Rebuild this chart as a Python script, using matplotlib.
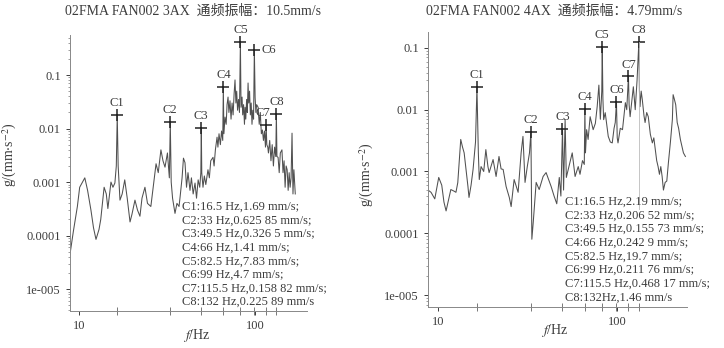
import numpy as np
import matplotlib
matplotlib.use('Agg')
import matplotlib.pyplot as plt
from matplotlib.ticker import FixedLocator, LogLocator, NullFormatter

plt.rcParams['font.family'] = ['Liberation Serif', 'Noto Sans CJK SC', 'DejaVu Sans']
plt.rcParams['mathtext.fontset'] = 'stix'

# -----------------------------------------------------------------------------
# Shared harmonic markers (shaft speed 16.5 Hz and multiples)
# -----------------------------------------------------------------------------
peak_names = ['C1', 'C2', 'C3', 'C4', 'C5', 'C6', 'C7', 'C8']
peak_hz = [16.5, 33, 49.5, 66, 82.5, 99, 115.5, 132]

# -----------------------------------------------------------------------------
# 3AX channel
# -----------------------------------------------------------------------------
title_3ax = '02FMA FAN002 3AX  通频振幅：10.5mm/s'
freq_3ax = [8.9, 9.3, 9.8, 10.1, 10.8, 11.2, 11.7, 12.1, 12.5, 13.0, 13.3, 13.9,
            14.3, 14.6, 15.0, 15.2, 15.6, 16.0, 16.3, 16.5, 16.7, 17.1, 17.6,
            18.2, 18.8, 19.5, 20.0, 20.8, 21.5, 22.2, 22.8, 23.7, 24.5, 25.6,
            26.5, 27.4, 28.2, 29.2, 30.0, 30.8, 31.8, 32.6, 33.0, 33.4, 34.0,
            35.1, 36.0, 37.0, 37.5, 38.5, 39.2, 40.0, 40.8, 41.6, 42.7, 43.5,
            44.5, 45.6, 46.5, 47.5, 48.5, 49.2, 49.5, 49.8, 50.6, 51.5, 52.5,
            54.0, 55.0, 56.0, 57.7, 58.5, 59.5, 60.8, 61.5, 62.4, 63.5, 64.5,
            65.5, 66.0, 66.5, 67.5, 68.5, 69.3, 70.2, 71.0, 72.0, 73.0, 74.0,
            75.0, 76.0, 76.9, 77.8, 78.6, 79.5, 80.5, 81.5, 82.5, 83.2, 84.3,
            85.0, 86.0, 87.0, 87.7, 88.5, 89.5, 90.3, 91.2, 92.0, 93.0, 94.0,
            95.0, 96.0, 97.0, 98.0, 99.0, 100, 101, 102, 104, 105.5, 107, 108.5,
            110, 111.5, 113, 114.5, 115.5, 116.5, 118, 119, 121, 123, 125, 127,
            129, 131, 132, 133, 135, 137, 139, 142, 144, 146, 148, 150, 152,
            154, 156, 158, 160, 162, 164, 166, 169]
amp_3ax = [4.5e-5, 1.2e-4, 3.5e-4, 8e-4, 1.2e-3, 7e-4, 3e-4, 1.4e-4, 8.5e-5,
           1.3e-4, 2e-4, 8e-4, 6e-4, 3.2e-4, 7e-4, 1.0e-3, 8e-4, 9.6e-4, 2e-3,
           0.0179, 2e-3, 4.6e-4, 6e-4, 1.1e-3, 5e-4, 1.8e-4, 2.5e-4, 4.6e-4,
           3e-4, 2.3e-4, 5e-4, 8e-4, 4e-4, 3.5e-4, 9e-4, 2.2e-3, 1.5e-3, 4e-3,
           2.5e-3, 1.9e-3, 3.5e-3, 1.2e-3, 0.0132, 1e-3, 5e-4, 2.6e-4, 4e-4,
           3.5e-4, 5.2e-4, 1.2e-3, 2.8e-3, 2.3e-3, 8e-4, 1.5e-3, 7e-4, 1.2e-3,
           6e-4, 9.6e-4, 5e-4, 1.1e-3, 8e-4, 1.5e-3, 0.0104, 1.5e-3, 8e-4,
           1.3e-3, 9e-4, 1.7e-3, 1.2e-3, 2.5e-3, 2.9e-3, 2e-3, 4e-3, 6.9e-3,
           4.5e-3, 8e-3, 5e-3, 9e-3, 6e-3, 0.0596, 8e-3, 0.0164, 0.012, 0.028,
           0.0388, 0.02, 0.033, 0.015, 0.030, 0.018, 0.045, 0.081, 0.03, 0.05,
           0.022, 0.035, 0.02, 0.414, 0.025, 0.0388, 0.018, 0.028, 0.012, 0.025,
           0.015, 0.035, 0.02, 0.071, 0.03, 0.05, 0.018, 0.03, 0.012, 0.022,
           0.015, 0.298, 0.038, 0.02, 0.028, 0.025, 0.012, 0.02, 0.008, 0.0094,
           0.006, 0.009, 0.0045, 0.0118, 0.005, 0.0045, 0.0035, 0.006, 0.0025,
           0.005, 0.002, 0.0045, 0.003, 0.0191, 0.003, 0.0029, 0.0015, 0.0035,
           0.004, 0.0015, 0.0025, 0.0008, 0.002, 0.0017, 0.0007, 0.0015, 0.0008,
           0.0012, 0.0082, 0.0006, 0.0017, 0.0006]
peak_amp_3ax = [0.0179, 0.0132, 0.0104, 0.0596, 0.414, 0.298, 0.0118, 0.0191]
notes_3ax = ['C1:16.5 Hz,1.69 mm/s;',
             'C2:33 Hz,0.625 85 mm/s;',
             'C3:49.5 Hz,0.326 5 mm/s;',
             'C4:66 Hz,1.41 mm/s;',
             'C5:82.5 Hz,7.83 mm/s;',
             'C6:99 Hz,4.7 mm/s;',
             'C7:115.5 Hz,0.158 82 mm/s;',
             'C8:132 Hz,0.225 89 mm/s']

# -----------------------------------------------------------------------------
# 4AX channel
# -----------------------------------------------------------------------------
title_4ax = '02FMA FAN002 4AX  通频振幅：4.79mm/s'
freq_4ax = [8.8, 9.15, 9.6, 10.1, 10.5, 10.8, 11.1, 11.8, 12.3, 12.6, 12.9,
            13.4, 13.7, 14.0, 14.7, 14.9, 15.3, 15.7, 16.2, 16.5, 16.8, 17.0,
            17.4, 18.0, 18.5, 19.0, 19.3, 20.3, 21.1, 21.9, 22.5, 23.1, 24.0,
            25.0, 25.6, 26.6, 28.0, 29.1, 29.8, 30.6, 31.5, 32.4, 33.0, 33.4,
            34.0, 35.3, 36.7, 38.6, 40.1, 42.8, 44.5, 46.0, 47.5, 48.5, 49.5,
            50.2, 51.2, 52.0, 53.3, 56.1, 58.2, 60.6, 62.0, 64.0, 65.5, 66.0,
            66.5, 67.5, 68.8, 70.6, 73.4, 75.5, 77.3, 79.0, 80.5, 82.0, 82.5,
            83.2, 84.0, 85.7, 89.1, 91.5, 93.8, 96.0, 97.5, 99.0, 100, 101, 104,
            107, 109, 111, 113, 115.5, 116.5, 118, 121, 123, 126, 129, 132, 133,
            134, 136, 138, 141, 143, 146, 149, 153, 157, 160, 163, 166, 169,
            172, 175, 178, 181, 185, 189, 193, 198, 203, 205, 208, 212, 216,
            220, 225, 230, 234, 240]
amp_4ax = [5.0e-4, 4.6e-4, 3.6e-4, 8.0e-4, 6e-4, 3.2e-4, 2.3e-4, 5.1e-4,
           4.8e-4, 4.6e-4, 6.6e-4, 3.3e-3, 2.5e-3, 2.0e-3, 5.7e-4, 3.8e-4, 6e-4,
           1.08e-3, 3e-3, 0.0231, 2e-3, 7.4e-4, 1.2e-3, 1.0e-3, 2.26e-3, 1.2e-3,
           9.6e-4, 1.56e-3, 8.3e-4, 1.75e-3, 1.1e-3, 1.08e-3, 5.7e-4, 3.8e-4,
           2.7e-4, 7.4e-4, 4.6e-4, 2.0e-3, 3.7e-3, 6.65e-4, 1.2e-3, 2e-3,
           4.37e-3, 8.0e-5, 1.5e-4, 6.65e-4, 5.1e-4, 8.3e-4, 9.6e-4, 5.7e-4,
           3.95e-4, 3e-4, 8e-4, 4e-4, 4.94e-3, 5e-4, 6.9e-3, 8e-4, 1.08e-3,
           2.0e-3, 8.3e-4, 1.2e-3, 9e-4, 1.5e-3, 1.3e-3, 0.0103, 2e-3, 4.75e-3,
           3.3e-3, 7.7e-3, 4.75e-3, 6e-3, 0.0112, 0.025, 0.007, 0.02, 0.104,
           0.015, 6.9e-3, 8.95e-3, 3.7e-3, 3e-3, 2.9e-3, 5e-3, 6.2e-3, 0.0134,
           3.5e-3, 2.9e-3, 5e-3, 4.75e-3, 8e-3, 0.013, 0.01, 0.0346, 0.012,
           7.7e-3, 0.015, 0.0235, 0.01, 0.03, 0.1234, 0.02, 0.0112, 0.02,
           0.0145, 8e-3, 6.2e-3, 9e-3, 7.7e-3, 4e-3, 2.9e-3, 3.5e-3, 2.26e-3,
           1.5e-3, 1.2e-3, 9e-4, 1.2e-3, 8.3e-4, 5e-4, 6.65e-4, 7e-4, 1.4e-3,
           3e-3, 6.9e-3, 0.0175, 0.015, 0.012, 6.2e-3, 5e-3, 3.3e-3, 2.5e-3,
           2.0e-3, 1.75e-3]
peak_amp_4ax = [0.0231, 0.00437, 0.00494, 0.0103, 0.104, 0.0134, 0.0346, 0.1234]
notes_4ax = ['C1:16.5 Hz,2.19 mm/s;',
             'C2:33 Hz,0.206 52 mm/s;',
             'C3:49.5 Hz,0.155 73 mm/s;',
             'C4:66 Hz,0.242 9 mm/s;',
             'C5:82.5 Hz,19.7 mm/s;',
             'C6:99 Hz,0.211 76 mm/s;',
             'C7:115.5 Hz,0.468 17 mm/s;',
             'C8:132Hz,1.46 mm/s']

y_ticks = [1e-5, 1e-4, 1e-3, 1e-2, 1e-1]
y_ticklabels = ['1e-005', '0.0001', '0.001', '0.01', '0.1']

INK = '#3c3c3c'
LINE = '#505050'


def draw_panel(ax, freq, amp, peak_amp, notes, xlim, ylim, note_xy, note_step,
               label_shift=None):
    label_shift = label_shift or {}
    ax.plot(freq, amp, color=LINE, lw=0.75)
    ax.plot(peak_hz, peak_amp, ls='none', marker='+', ms=8, mew=1.1, color='#222222')

    for name, f, a in zip(peak_names, peak_hz, peak_amp):
        dx, dy, ha = label_shift.get(name, (0, 8.5, 'center'))
        ax.annotate(name, (f, a), xytext=(dx, dy), textcoords='offset points',
                    ha=ha, va='center', fontsize=9, color=INK)

    for i, line in enumerate(notes):
        ax.text(note_xy[0], note_xy[1] - i * note_step, line, transform=ax.transAxes,
                ha='left', va='center', fontsize=9, color=INK)

    ax.set_xscale('log')
    ax.set_yscale('log')
    ax.set_xlim(*xlim)
    ax.set_ylim(*ylim)

    ax.yaxis.set_major_locator(FixedLocator(y_ticks))
    ax.set_yticklabels(y_ticklabels)
    ax.yaxis.set_minor_locator(LogLocator(base=10, subs=np.arange(2, 10)))
    ax.yaxis.set_minor_formatter(NullFormatter())

    ax.xaxis.set_major_locator(FixedLocator([10, 100]))
    ax.set_xticklabels(['10', '100'])
    ax.xaxis.set_minor_locator(FixedLocator(peak_hz))
    ax.xaxis.set_minor_formatter(NullFormatter())

    ax.tick_params(axis='both', which='major', labelsize=9, colors=INK,
                   length=3, width=0.7)
    ax.tick_params(axis='y', which='minor', length=1.5, width=0.5, colors='#777777')
    ax.tick_params(axis='x', which='minor', direction='inout', length=6,
                   width=0.7, colors='#777777')

    for side in ('top', 'right'):
        ax.spines[side].set_visible(False)
    for side in ('left', 'bottom'):
        ax.spines[side].set_color('#888888')
        ax.spines[side].set_linewidth(0.7)

    ax.set_xlabel(r'$f$/Hz', fontsize=10, color=INK)
    ax.set_ylabel(r'g/(mm$\cdot$s$^{-2}$)', fontsize=10, color=INK)


fig = plt.figure(figsize=(7.24, 3.48), dpi=100)

ax_l = fig.add_axes([70 / 724, 1 - 311 / 348, 237 / 724, 276 / 348])
draw_panel(ax_l, freq_3ax, amp_3ax, peak_amp_3ax, notes_3ax,
           xlim=(8.9, 197), ylim=(3.9e-6, 0.56),
           note_xy=(0.473, 0.377), note_step=0.0493,
           label_shift={'C6': (5, 0, 'left'), 'C7': (-2, 8.5, 'center')})
ax_l.xaxis.set_label_coords(0.536, -0.058)
ax_l.yaxis.set_label_coords(-0.215, 0.565)

ax_r = fig.add_axes([428 / 724, 1 - 307 / 348, 259 / 724, 275 / 348])
draw_panel(ax_r, freq_4ax, amp_4ax, peak_amp_4ax, notes_4ax,
           xlim=(8.8, 245), ylim=(6.4e-6, 0.181),
           note_xy=(0.529, 0.382), note_step=0.0495)
# faint guide under the 132 Hz line
ax_r.plot([peak_hz[-1], peak_hz[-1]], [2.5e-4, peak_amp_4ax[-1]],
          color='#bbbbbb', lw=0.6)
ax_r.xaxis.set_label_coords(0.49, -0.055)
ax_r.yaxis.set_label_coords(-0.2, 0.48)

fig.text(193 / 724, 1 - 11 / 348, title_3ax, ha='center', va='center',
         fontsize=10, color=INK)
fig.text(554 / 724, 1 - 11 / 348, title_4ax, ha='center', va='center',
         fontsize=10, color=INK)

fig.savefig('out.png', dpi=100, facecolor='white')
